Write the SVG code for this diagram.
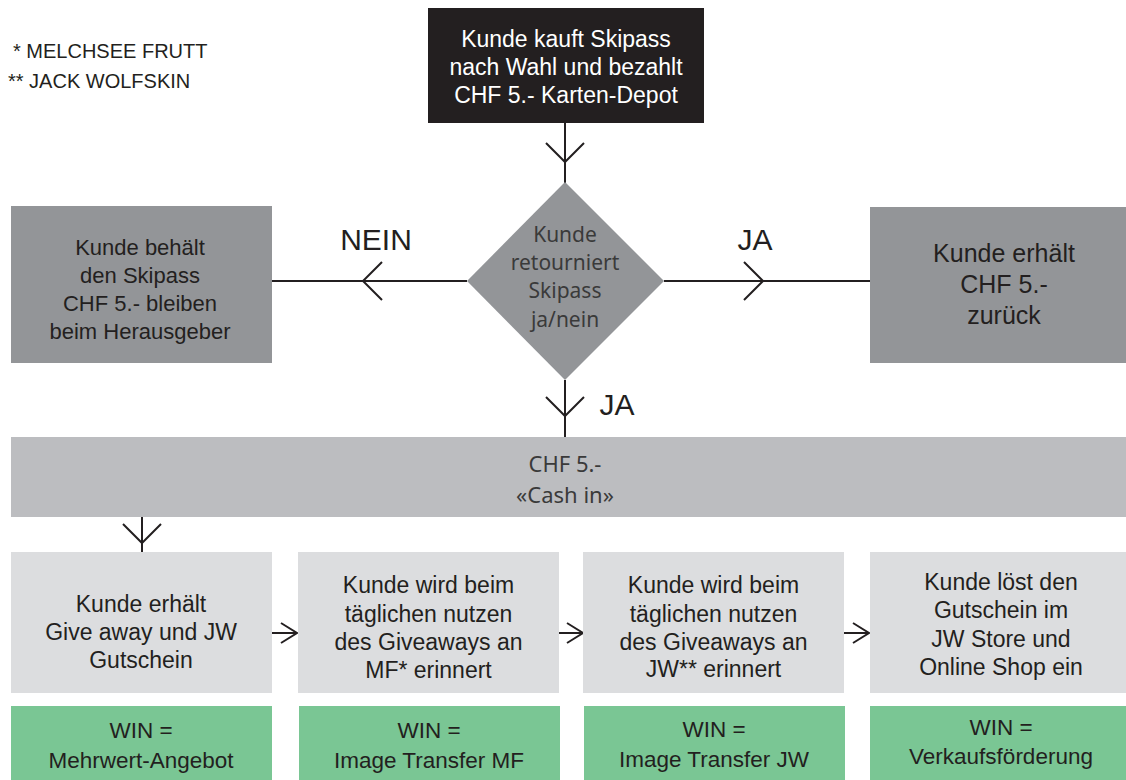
<svg xmlns="http://www.w3.org/2000/svg" width="1126" height="780" viewBox="0 0 1126 780">
<style>
.fut{font-family:"Liberation Sans",Arial,sans-serif;fill:#231f20;text-anchor:middle}
.fru{font-family:"Noto Sans","Open Sans",sans-serif;fill:#3a3a3a;text-anchor:middle}
.wht{fill:#ffffff}
.line{stroke:#231f20;stroke-width:2;fill:none}
.dark{fill:#939598}
.mid{fill:#bcbdc0}
.light{fill:#dcdddf}
.green{fill:#7ac694}
</style>
<defs>
<marker id="chev" viewBox="-22 -22 26 44" markerWidth="26" markerHeight="44" refX="0" refY="0" orient="auto" markerUnits="userSpaceOnUse">
<path d="M-19,-19 L0,0 L-19,19" fill="none" stroke="#231f20" stroke-width="2"/>
</marker>
<marker id="small" viewBox="-18 -12 20 24" markerWidth="20" markerHeight="24" refX="0" refY="0" orient="auto" markerUnits="userSpaceOnUse">
<path d="M-16,-10 L0,0 L-16,10" fill="none" stroke="#231f20" stroke-width="2"/>
</marker>
</defs>
<rect width="1126" height="780" fill="#ffffff"/>

<g id="legend">
<text class="fut" style="text-anchor:start" font-size="20" x="13" y="58">* MELCHSEE FRUTT</text>
<text class="fut" style="text-anchor:start" font-size="20" x="8" y="88">** JACK WOLFSKIN</text>
</g>

<g id="connectors">
<path class="line" d="M565,123 L565,162 L565,183" marker-mid="url(#chev)"/>
<path class="line" d="M467,281 L363,281 L272,281" marker-mid="url(#chev)"/>
<path class="line" d="M664,281 L763,281 L870,281" marker-mid="url(#chev)"/>
<path class="line" d="M565,380 L565,416 L565,437" marker-mid="url(#chev)"/>
<path class="line" d="M142,517 L142,543 L142,552" marker-mid="url(#chev)"/>
<path class="line" d="M272,633 L297,633" marker-end="url(#small)"/>
<path class="line" d="M559,633 L583,633" marker-end="url(#small)"/>
<path class="line" d="M844,633 L869,633" marker-end="url(#small)"/>
</g>

<g id="labels">
<text class="fut" font-size="30" x="376" y="250">NEIN</text>
<text class="fut" font-size="30" x="755" y="250">JA</text>
<text class="fut" font-size="30" x="617" y="415">JA</text>
</g>

<g id="start">
<rect x="428" y="8" width="276" height="115" fill="#231f20"/>
<text class="fut wht" font-size="23" x="566"><tspan x="566" y="47">Kunde kauft Skipass</tspan><tspan x="566" y="75">nach Wahl und bezahlt</tspan><tspan x="566" y="103">CHF 5.- Karten-Depot</tspan></text>
</g>

<g id="decision">
<polygon class="dark" points="565,182 664,281 565,380 467,281"/>
<text class="fru" font-size="21" x="565"><tspan x="565" y="242">Kunde</tspan><tspan x="565" y="270">retourniert</tspan><tspan x="565" y="298">Skipass</tspan><tspan x="565" y="327">ja/nein</tspan></text>
</g>

<g id="keep">
<rect class="dark" x="11" y="206" width="261" height="157"/>
<text class="fut" font-size="22" x="140"><tspan x="140" y="255">Kunde behält</tspan><tspan x="140" y="283">den Skipass</tspan><tspan x="140" y="311">CHF 5.- bleiben</tspan><tspan x="140" y="339">beim Herausgeber</tspan></text>
</g>

<g id="refund">
<rect class="dark" x="870" y="207" width="261" height="156"/>
<text class="fut" font-size="25" x="1004"><tspan x="1004" y="262">Kunde erhält</tspan><tspan x="1004" y="293">CHF 5.-</tspan><tspan x="1004" y="324">zurück</tspan></text>
</g>

<g id="cashin">
<rect class="mid" x="11" y="437" width="1115" height="80"/>
<text class="fru" font-size="22" x="565"><tspan x="565" y="472">CHF 5.-</tspan><tspan x="565" y="503">«Cash in»</tspan></text>
</g>

<g id="step1">
<rect class="light" x="11" y="552" width="261" height="141"/>
<text class="fut" font-size="23" x="141"><tspan x="141" y="612">Kunde erhält</tspan><tspan x="141" y="640">Give away und JW</tspan><tspan x="141" y="668">Gutschein</tspan></text>
</g>
<g id="step2">
<rect class="light" x="298" y="552" width="261" height="141"/>
<text class="fut" font-size="23" x="428.5"><tspan x="428.5" y="593">Kunde wird beim</tspan><tspan x="428.5" y="622">täglichen nutzen</tspan><tspan x="428.5" y="650">des Giveaways an</tspan><tspan x="428.5" y="678">MF* erinnert</tspan></text>
</g>
<g id="step3">
<rect class="light" x="583" y="552" width="261" height="141"/>
<text class="fut" font-size="23" x="713.5"><tspan x="713.5" y="593">Kunde wird beim</tspan><tspan x="713.5" y="622">täglichen nutzen</tspan><tspan x="713.5" y="650">des Giveaways an</tspan><tspan x="713.5" y="677">JW** erinnert</tspan></text>
</g>
<g id="step4">
<rect class="light" x="870" y="552" width="261" height="141"/>
<text class="fut" font-size="23" x="1001"><tspan x="1001" y="590">Kunde löst den</tspan><tspan x="1001" y="618">Gutschein im</tspan><tspan x="1001" y="647">JW Store und</tspan><tspan x="1001" y="675">Online Shop ein</tspan></text>
</g>

<g id="win1">
<rect class="green" x="11" y="706" width="261" height="74"/>
<text class="fut" font-size="22.5" x="141"><tspan x="141" y="738">WIN =</tspan><tspan x="141" y="768">Mehrwert-Angebot</tspan></text>
</g>
<g id="win2">
<rect class="green" x="299" y="706" width="261" height="74"/>
<text class="fut" font-size="22.5" x="429"><tspan x="429" y="738">WIN =</tspan><tspan x="429" y="768">Image Transfer MF</tspan></text>
</g>
<g id="win3">
<rect class="green" x="584" y="706" width="261" height="74"/>
<text class="fut" font-size="22.5" x="714"><tspan x="714" y="737">WIN =</tspan><tspan x="714" y="767">Image Transfer JW</tspan></text>
</g>
<g id="win4">
<rect class="green" x="870" y="706" width="261" height="74"/>
<text class="fut" font-size="22.5" x="1001"><tspan x="1001" y="735">WIN =</tspan><tspan x="1001" y="764">Verkaufsförderung</tspan></text>
</g>
</svg>
